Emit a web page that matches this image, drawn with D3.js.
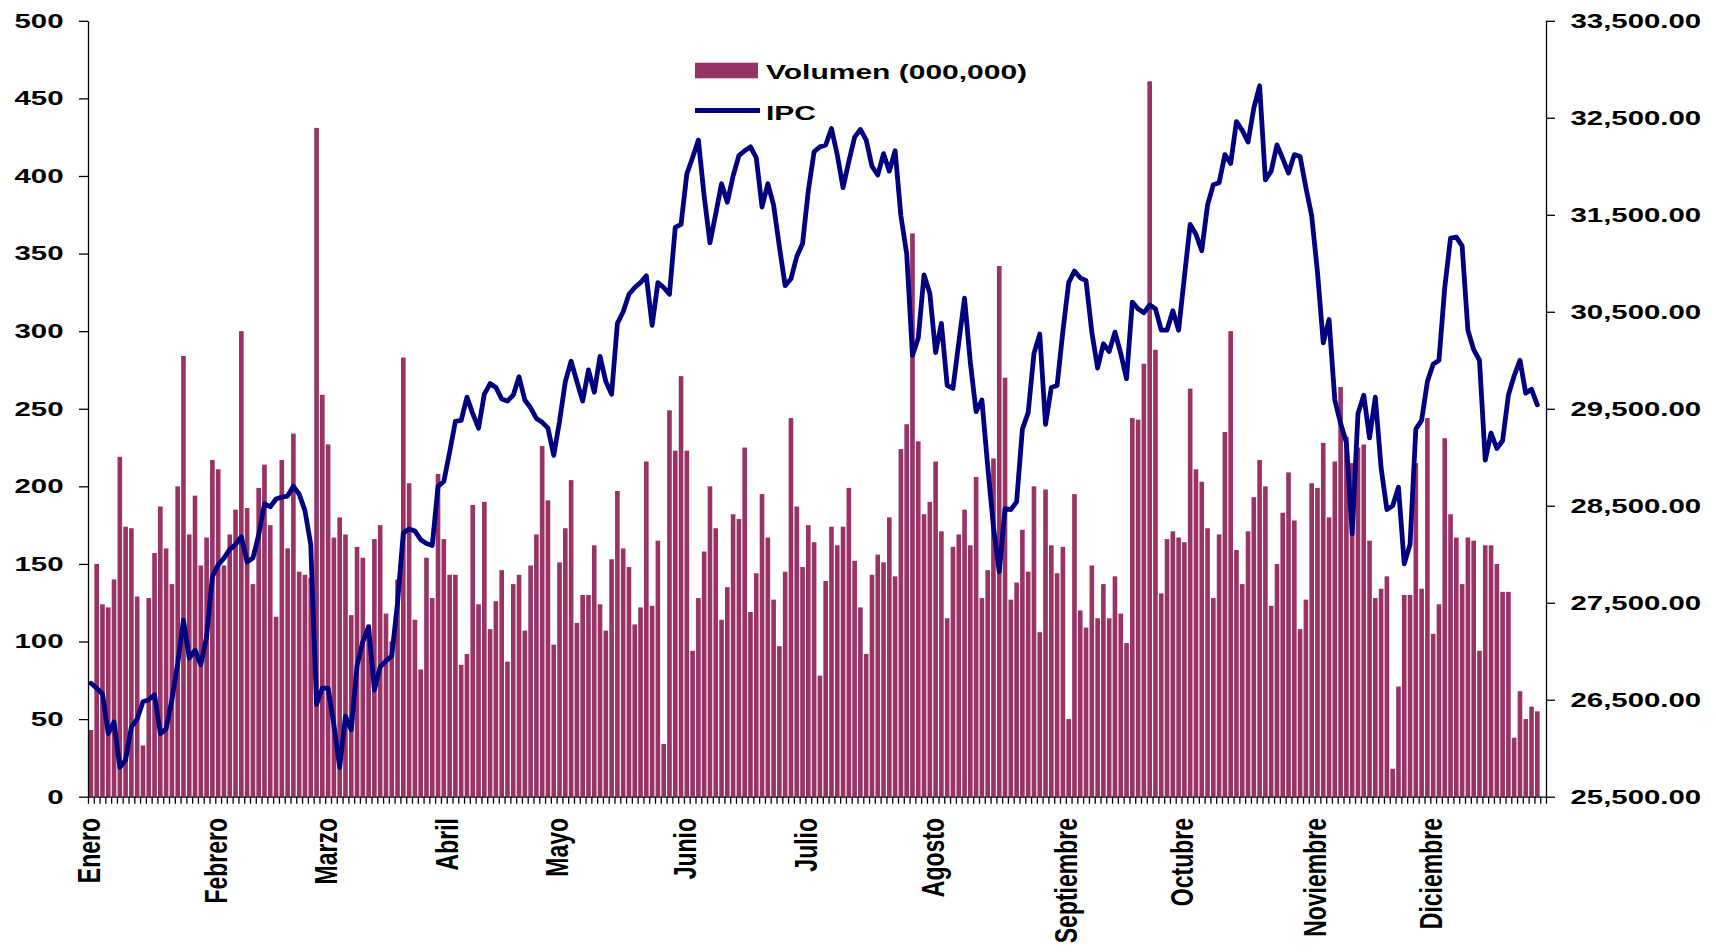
<!DOCTYPE html>
<html><head><meta charset="utf-8">
<script src="https://cdn.jsdelivr.net/npm/d3@7"></script>
<style>
html,body{margin:0;padding:0;background:#fff;}
svg{display:block;}
text{font-family:"Liberation Sans",Arial,sans-serif;font-weight:bold;fill:#000;}
</style></head><body>
<svg id="chart" width="1716" height="952"></svg>
<script>
const monthNames = ["Enero","Febrero","Marzo","Abril","Mayo","Junio","Julio","Agosto","Septiembre","Octubre","Noviembre","Diciembre"];
const monthDays = [22,19,21,19,22,21,22,23,20,23,20,20];
const volume = [
43,150,124,122,140,219,174,173,129,33,
128,157,187,160,137,200,284,169,194,149,
167,217,211,149,169,185,300,186,137,199,
214,175,116,217,160,234,145,143,141,431,
259,227,167,180,169,117,161,154,111,166,
175,118,100,140,283,202,114,82,154,128,
208,166,143,143,85,92,188,124,190,108,
126,146,87,137,143,107,149,169,226,191,
98,151,173,204,112,130,130,162,124,107,
153,197,160,148,111,122,216,123,165,34,
249,223,271,223,94,128,158,200,173,114,
135,182,179,225,119,144,195,167,127,97,
145,244,187,148,175,164,78,139,174,162,
174,199,152,122,92,143,156,151,180,142,
224,240,363,229,182,190,216,171,115,161,
169,185,162,206,128,146,218,342,270,127,
138,172,145,200,106,198,162,144,161,50,
195,120,109,149,115,137,115,142,118,99,
244,243,279,461,288,131,166,171,167,164,
263,211,203,173,128,169,235,300,159,137,
171,193,217,200,123,150,183,209,178,108,
127,202,199,228,180,216,264,232,215,225,
227,165,128,134,142,18,71,130,130,215,
134,244,105,124,231,182,167,137,167,165,
94,162,162,150,132,132,38,68,50,58,
55];
const ipc = [
26670,26620,26560,26150,26270,25800,25880,26220,26300,26480,
26500,26550,26150,26200,26500,26870,27320,26930,27010,26860,
27150,27770,27890,27960,28050,28100,28180,27920,27960,28200,
28520,28490,28570,28590,28600,28700,28620,28450,28100,26450,
26620,26620,26240,25800,26330,26190,26850,27100,27250,26600,
26840,26900,26950,27500,28220,28260,28240,28150,28110,28090,
28700,28750,29050,29370,29380,29620,29450,29300,29650,29760,
29720,29600,29580,29640,29830,29590,29510,29400,29360,29300,
29020,29370,29780,29990,29780,29580,29900,29670,30040,29780,
29650,30380,30500,30680,30750,30800,30870,30360,30800,30750,
30680,31370,31400,31920,32090,32270,31690,31210,31510,31820,
31630,31900,32110,32160,32200,32090,31580,31820,31600,31170,
30770,30840,31070,31200,31750,32150,32200,32220,32390,32120,
31780,32050,32300,32380,32270,32000,31910,32130,31950,32160,
31490,31100,30050,30230,30880,30690,30080,30380,29740,29710,
30180,30640,29980,29470,29590,28910,28280,27820,28470,28460,
28540,29290,29460,30070,30270,29340,29720,29740,30300,30800,
30920,30850,30820,30290,29920,30170,30090,30290,30070,29810,
30600,30530,30490,30570,30530,30310,30310,30510,30310,30860,
31400,31300,31130,31600,31810,31830,32120,32030,32460,32370,
32250,32600,32830,31860,31950,32220,32080,31930,32120,32100,
31780,31490,30910,30180,30420,29590,29350,29150,28210,29450,
29640,29200,29620,28890,28460,28500,28690,27900,28100,29290,
29380,29780,29960,30000,30750,31260,31270,31180,30310,30110,
30000,28970,29250,29090,29170,29640,29840,30000,29660,29700,
29540];
const volumeTicks = [0,50,100,150,200,250,300,350,400,450,500];
const ipcTicks = [25500,26500,27500,28500,29500,30500,31500,32500,33500];
const legendLabels = ["Volumen (000,000)","IPC"];

const barColor = "#993366", lineColor = "#000080";
const L = 88, R = 1546, T = 20.8, B = 796.7;
const SX = 1.47;

// trading-day slots, month by month
const categories = [];
const monthStart = [];
monthDays.forEach((n, m) => { monthStart.push(categories.length); for (let d = 0; d < n; d++) categories.push(categories.length); });

const svg = d3.select("#chart");
const pad = 0.2;
const x = d3.scaleBand().domain(categories).range([L, R]).paddingInner(pad).paddingOuter(pad / 2);
const xb = d3.scaleLinear().domain([0, categories.length]).range([L, R]);
const yL = d3.scaleLinear().domain([0, 500]).range([B, T]);
const yR = d3.scaleLinear().domain([25500, 33500]).range([B, T]);

// bars
svg.append("g").selectAll("rect").data(volume.map((v, i) => ({c: categories[i], v})))
  .join("rect")
  .attr("x", d => x(d.c)).attr("width", x.bandwidth())
  .attr("y", d => yL(d.v)).attr("height", d => yL(0) - yL(d.v))
  .attr("fill", barColor);

// line
const line = d3.line().x(d => x(d.c) + x.bandwidth() / 2).y(d => yR(d.v));
svg.append("path").datum(ipc.map((v, i) => ({c: categories[i], v})))
  .attr("d", line).attr("fill", "none").attr("stroke", lineColor)
  .attr("stroke-width", 4.8).attr("stroke-linejoin", "round").attr("stroke-linecap", "round");

// left axis
const gL = svg.append("g").attr("transform", `translate(${L},0)`)
  .call(d3.axisLeft(yL).tickValues(volumeTicks).tickSize(9).tickSizeOuter(0).tickFormat(d3.format("d")));
gL.selectAll("text").attr("x", 0).attr("transform", `translate(-24.5,0) scale(${SX},1)`)
  .style("font-size", "20px").style("font-family", "'Liberation Sans',Arial,sans-serif").style("font-weight", "bold");
// right axis
const gR = svg.append("g").attr("transform", `translate(${R},0)`)
  .call(d3.axisRight(yR).tickValues(ipcTicks).tickSize(9).tickSizeOuter(0).tickFormat(d3.format(",.2f")));
gR.selectAll("text").attr("x", 0).attr("transform", `translate(24.5,0) scale(${SX},1)`)
  .style("font-size", "20px").style("font-family", "'Liberation Sans',Arial,sans-serif").style("font-weight", "bold");
// bottom axis with a tick at every slot boundary
const gB = svg.append("g").attr("transform", `translate(0,${B})`)
  .call(d3.axisBottom(xb).tickValues(d3.range(0, categories.length + 1)).tickSize(7).tickSizeOuter(0).tickFormat(""));
[gL, gR, gB].forEach(g => { g.selectAll("path,line").attr("stroke", "#000").attr("stroke-width", 1.3); });

// month labels
svg.append("g").selectAll("text").data(monthNames.map((m, i) => ({m, s: monthStart[i]})))
  .join("text")
  .attr("transform", d => `translate(${xb(d.s)},818) scale(1.4,1) rotate(-90)`)
  .attr("text-anchor", "end").attr("dy", "0.36em")
  .style("font-size", "23px")
  .text(d => d.m);

// legend
const lg = svg.append("g");
lg.append("rect").attr("x", 695).attr("y", 62.7).attr("width", 63).attr("height", 15.6).attr("fill", barColor);
lg.append("line").attr("x1", 695).attr("x2", 760).attr("y1", 110.5).attr("y2", 110.5)
  .attr("stroke", lineColor).attr("stroke-width", 4.8);
lg.append("text").attr("transform", `translate(766,78.5) scale(1.5,1)`).style("font-size", "20px").text(legendLabels[0]);
lg.append("text").attr("transform", `translate(766,120) scale(1.5,1)`).style("font-size", "20px").text(legendLabels[1]);
</script>
</body></html>
